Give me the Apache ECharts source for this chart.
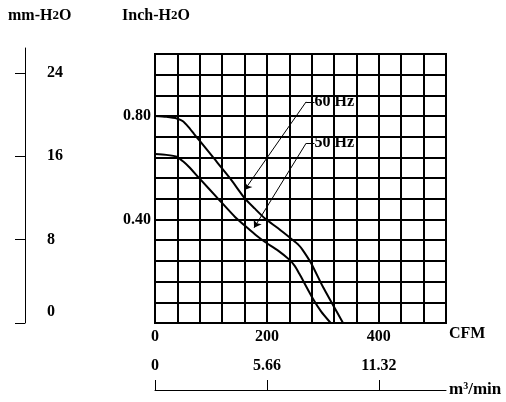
<!DOCTYPE html>
<html>
<head>
<meta charset="utf-8">
<title>Fan P-Q curve</title>
<script src="https://cdn.jsdelivr.net/npm/echarts@6.0.0/dist/echarts.min.js"></script>
<style>
  html, body { margin: 0; padding: 0; background: #fff; }
  #chart { width: 506px; height: 402px; }
</style>
</head>
<body>
<div id="chart"></div>
<script>
// airflow (CFM) vs static pressure (inch H2O)
const cfm60 = [0, 20, 40, 50, 60, 70, 80, 104, 134, 160, 178, 196, 220, 246, 256, 264, 279, 300, 318, 336];
const inch60 = [0.8, 0.797, 0.79, 0.78, 0.757, 0.73, 0.704, 0.64, 0.56, 0.483, 0.443, 0.405, 0.366, 0.321, 0.303, 0.282, 0.231, 0.14, 0.07, 0];
const cfm50 = [0, 20, 40, 50, 60, 79, 113, 143, 166, 180, 196, 220, 240, 250, 258, 282, 297, 314];
const inch50 = [0.653, 0.65, 0.642, 0.625, 0.605, 0.56, 0.48, 0.41, 0.366, 0.34, 0.314, 0.28, 0.245, 0.22, 0.19, 0.095, 0.044, 0];

// axis ticks / labels
const cfmLabels = [0, 200, 400];
const inchLabels = [0.4, 0.8];
const mmTicks = [0, 8, 16, 24];
const m3Ticks = [0, 5.66, 11.32];

const CFM_MAX = 520;
const INCH_MAX = 1.04;
const MM_MAX = 26.4;
const M3_MAX = CFM_MAX / 200 * 5.66;

// curve labels: [text start, corner, arrow tip] in (CFM, inch)
const lead60 = [[285, 0.855], [270, 0.855], [160, 0.514]];
const lead50 = [[285, 0.695], [270, 0.695], [177, 0.368]];

const font = {
  fontFamily: "'Liberation Serif', 'Times New Roman', serif",
  fontWeight: 'bold',
  fontSize: 16,
  color: '#000',
};

function pairs(xs, ys) {
  return xs.map((x, i) => [x, ys[i]]);
}

function leader(pts) {
  return [
    [{ coord: pts[0], symbol: 'none' }, { coord: pts[1], symbol: 'none' }],
    [{ coord: pts[1], symbol: 'none' }, { coord: pts[2], symbol: 'arrow' }],
  ];
}

function curve(name, xs, ys, lead) {
  return {
    name: name,
    type: 'line',
    xAxisIndex: 0,
    yAxisIndex: 0,
    data: pairs(xs, ys),
    showSymbol: false,
    smooth: 0.2,
    silent: true,
    lineStyle: { color: '#000', width: 2 },
    markLine: {
      silent: true,
      symbolSize: 7,
      label: { show: false },
      lineStyle: { color: '#000', width: 1, type: 'solid' },
      data: leader(lead),
    },
    markPoint: {
      silent: true,
      symbol: 'rect',
      symbolSize: 0,
      label: { show: true, position: 'right', distance: 0, formatter: name, ...font },
      data: [{ coord: lead[0] }],
    },
  };
}

const chart = echarts.init(document.getElementById('chart'));

const option = {
  animation: false,
  title: [
    {
      text: 'mm-H{s|2}O',
      left: 3,
      top: 3,
      textStyle: { ...font, rich: { s: { ...font, fontSize: 13 } } },
    },
    {
      text: 'Inch-H{s|2}O',
      left: 117,
      top: 3,
      textStyle: { ...font, rich: { s: { ...font, fontSize: 13 } } },
    },
  ],
  grid: [
    { left: 155, top: 54, width: 291, height: 269, show: true, borderColor: '#000', borderWidth: 2 },
    { left: 25, top: 48, width: 10, height: 275 },
    { left: 155, top: 380, width: 291, height: 10 },
  ],
  xAxis: [
    {
      gridIndex: 0,
      type: 'value',
      min: 0,
      max: CFM_MAX,
      interval: 40,
      name: 'CFM',
      nameLocation: 'end',
      nameGap: 3,
      nameTextStyle: { ...font, verticalAlign: 'top', padding: [3, 0, 0, 0] },
      axisLine: { show: true, lineStyle: { color: '#000', width: 2 } },
      axisTick: { show: false },
      axisLabel: { customValues: cfmLabels, margin: 6, ...font },
      splitLine: { show: true, lineStyle: { color: '#000', width: 2 } },
    },
    { gridIndex: 1, type: 'value', show: false, min: 0, max: 1 },
    {
      gridIndex: 2,
      type: 'value',
      position: 'bottom',
      min: 0,
      max: M3_MAX,
      name: 'm{sup|3}/min',
      nameLocation: 'end',
      nameGap: 3,
      nameTextStyle: { ...font, fontSize: 17, rich: { sup: { ...font, fontSize: 10, verticalAlign: 'top', padding: [0, 0, 8, 0] } } },
      axisLine: { show: true, lineStyle: { color: '#000', width: 1 } },
      axisTick: { show: true, inside: true, length: 10, customValues: m3Ticks, lineStyle: { color: '#000', width: 1 } },
      axisLabel: { inside: true, margin: 16, customValues: m3Ticks, formatter: v => String(v), ...font },
      splitLine: { show: false },
    },
  ],
  yAxis: [
    {
      gridIndex: 0,
      type: 'value',
      min: 0,
      max: INCH_MAX,
      interval: 0.08,
      axisLine: { show: true, lineStyle: { color: '#000', width: 2 } },
      axisTick: { show: false },
      axisLabel: { customValues: inchLabels, margin: 4, formatter: v => v.toFixed(2), ...font },
      splitLine: { show: true, lineStyle: { color: '#000', width: 2 } },
    },
    {
      gridIndex: 1,
      type: 'value',
      position: 'right',
      min: 0,
      max: MM_MAX,
      axisLine: { show: true, lineStyle: { color: '#000', width: 1 } },
      axisTick: { show: true, inside: true, length: 10, customValues: mmTicks, lineStyle: { color: '#000', width: 1 } },
      axisLabel: {
        margin: 12,
        customValues: mmTicks,
        formatter: v => (v === 0 ? '{z|0}' : String(v)),
        rich: { z: { ...font, padding: [0, 0, 22, 0] } },
        ...font,
      },
      splitLine: { show: false },
    },
    { gridIndex: 2, type: 'value', show: false, min: 0, max: 1 },
  ],
  series: [
    curve('60 Hz', cfm60, inch60, lead60),
    curve('50 Hz', cfm50, inch50, lead50),
  ],
};

chart.setOption(option);
</script>
</body>
</html>
